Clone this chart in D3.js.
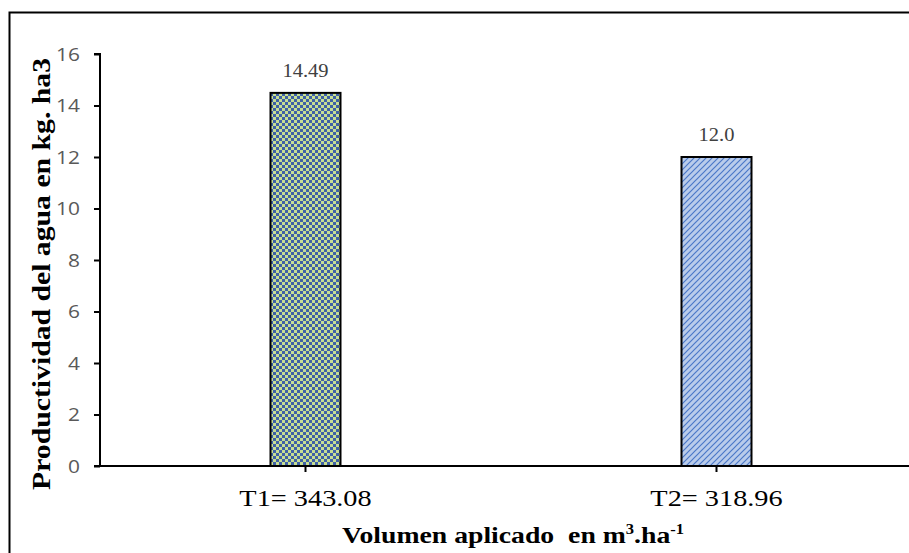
<!DOCTYPE html>
<html><head><meta charset="utf-8">
<script src="https://cdn.jsdelivr.net/npm/d3@7"></script>
<style>body{margin:0;background:#fff}svg{display:block}
.serif{font-family:'Liberation Serif','Times New Roman','DejaVu Serif',serif}
.sans{font-family:'Open Sans','Noto Sans',sans-serif}
</style>
</head><body><svg id="c" width="909" height="553"></svg>
<script>
(function(){
const categories = ["T1= 343.08", "T2= 318.96"];
const values = [14.49, 12.0];
const valueLabels = ["14.49", "12.0"];
const yTicks = [0, 2, 4, 6, 8, 10, 12, 14, 16];
const yTitle = "Productividad del agua en kg. ha3";
const SX = 1.18; // horizontal stretch of the original picture

const svg = d3.select("#c");
const defs = svg.append("defs");
const p1 = defs.append("pattern").attr("id","p1").attr("patternUnits","userSpaceOnUse").attr("width",6).attr("height",6);
p1.append("rect").attr("width",6).attr("height",6).attr("fill","#3E60A6");
p1.append("rect").attr("x",0).attr("y",0).attr("width",3).attr("height",3).attr("fill","#C6DE93");
p1.append("rect").attr("x",3).attr("y",3).attr("width",3).attr("height",3).attr("fill","#C6DE93");
const p2 = defs.append("pattern").attr("id","p2").attr("patternUnits","userSpaceOnUse").attr("width",6).attr("height",6);
p2.append("rect").attr("width",6).attr("height",6).attr("fill","#B9CCEB");
p2.append("path").attr("d","M-1,1 L1,-1 M0,6 L6,0 M5,7 L7,5").attr("stroke","#4A78C8").attr("stroke-width",1.2);

svg.append("path").attr("d","M9.5,560 L9.5,12.5 L920,12.5").attr("fill","none").attr("stroke","#000").attr("stroke-width",2);

const mLeft = 100, mRight = 922, mTop = 54, mBottom = 466;
const x = d3.scaleBand().domain(categories).range([mLeft, mRight]);
const y = d3.scaleLinear().domain([0,16]).range([mBottom, mTop]);
const barW = 70;

const g = svg.append("g");
g.selectAll("rect.bar").data(values).join("rect")
  .attr("x",(d,i)=>x(categories[i]) + x.bandwidth()/2 - barW/2)
  .attr("y",d=>y(d)).attr("width",barW).attr("height",d=>y(0)-y(d))
  .attr("fill",(d,i)=>i===0?"url(#p1)":"url(#p2)")
  .attr("stroke","#000").attr("stroke-width",2);

g.selectAll("text.vl").data(values).join("text")
  .attr("class","serif")
  .attr("transform",(d,i)=>`translate(${x(categories[i]) + x.bandwidth()/2},${y(d)-16}) scale(1.08,1)`)
  .attr("text-anchor","middle")
  .style("font-size","19px").attr("fill","#404040")
  .text((d,i)=>valueLabels[i]);

const ya = svg.append("g").attr("transform",`translate(${mLeft},0)`)
  .call(d3.axisLeft(y).tickValues(yTicks).tickSize(6).tickPadding(14).tickFormat(d3.format("d")));
ya.attr("font-family",null).attr("font-size",null);
ya.select(".domain").attr("d",`M-6,${mTop}H0V${mBottom}`).attr("stroke","#000").attr("stroke-width",2);
ya.selectAll(".tick line").attr("stroke","#000").attr("stroke-width",2);
ya.selectAll(".tick text").attr("class","sans").style("font-size","19px").attr("fill","#595959")
  .attr("x",-20/1.1).attr("transform","scale(1.1,1)");

const xa = svg.append("g").attr("transform",`translate(0,${mBottom})`)
  .call(d3.axisBottom(x).tickSize(6).tickPadding(17));
xa.attr("font-family",null).attr("font-size",null);
xa.select(".domain").attr("d",`M94,0H${mRight}`).attr("stroke","#000").attr("stroke-width",2);
xa.selectAll(".tick line").attr("stroke","#000").attr("stroke-width",2);
xa.selectAll(".tick text").attr("class","serif").style("font-size","24px").attr("fill","#000")
  .attr("transform",`scale(${SX},1)`);

svg.append("text").attr("class","serif").attr("transform","translate(50,274) rotate(-90)")
  .attr("text-anchor","middle").attr("textLength",432).attr("lengthAdjust","spacingAndGlyphs")
  .style("font-weight","bold").style("font-size","25px").attr("fill","#000").text(yTitle);

const xt = svg.append("text").attr("class","serif")
  .attr("transform",`translate(513,543) scale(${SX},1)`).attr("text-anchor","middle")
  .style("white-space","pre")
  .style("font-weight","bold").style("font-size","23.5px").attr("fill","#000");
xt.append("tspan").text("Volumen aplicado  en m");
xt.append("tspan").attr("dy",-9).style("font-size","14px").text("3");
xt.append("tspan").attr("dy",9).text(".ha");
xt.append("tspan").attr("dy",-9).style("font-size","14px").text("-1");
})();
</script></body></html>
